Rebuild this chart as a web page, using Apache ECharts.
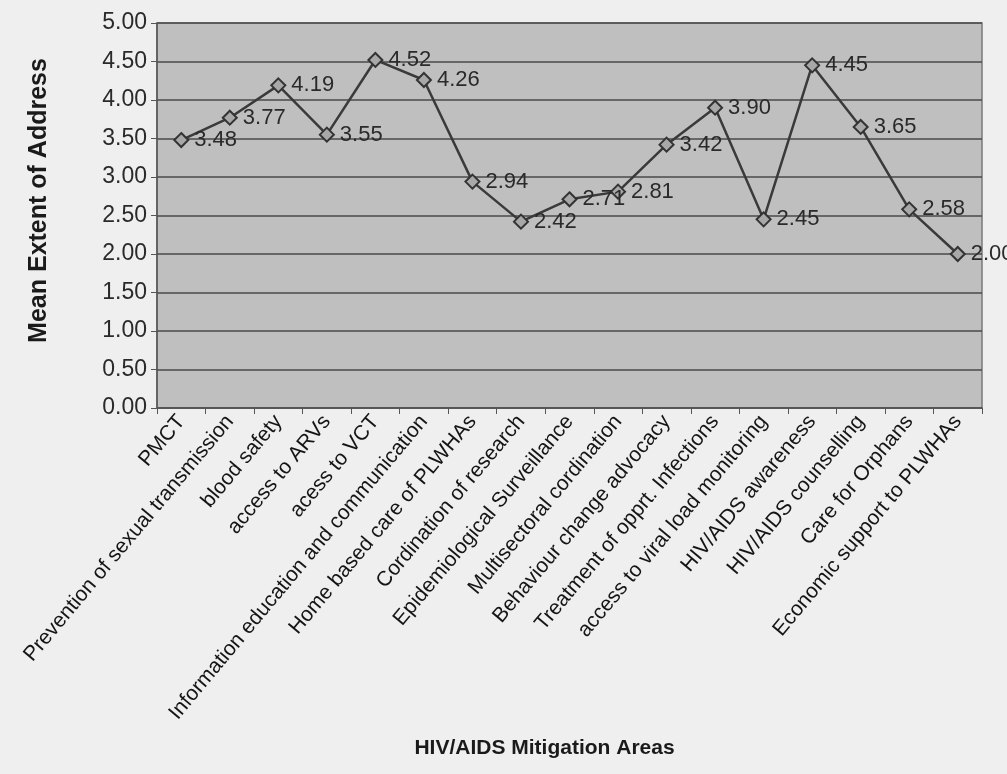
<!doctype html>
<html>
    <head>
        <meta charset="utf-8">
        <title>HIV/AIDS Mitigation Areas</title>
        <style>
            html, body { margin: 0; padding: 0; background: #efefef; }
            #main { width: 1007px; height: 774px; }
        </style>
    </head>
    <body>
        <div id="main"></div>
        <script src="https://cdn.jsdelivr.net/npm/echarts@6/dist/echarts.min.js"></script>
        <script>
            var areas = [
                'PMCT',
                'Prevention of sexual transmission',
                'blood safety',
                'access to ARVs',
                'acess to VCT',
                'Information education and communication',
                'Home based care of PLWHAs',
                'Cordination of research',
                'Epidemiological Surveillance',
                'Multisectoral cordination',
                'Behaviour change advocacy',
                'Treatment of opprt. Infections',
                'access to viral load monitoring',
                'HIV/AIDS awareness',
                'HIV/AIDS counselling',
                'Care for Orphans',
                'Economic support to PLWHAs'
            ];
            var meanExtent = [3.48, 3.77, 4.19, 3.55, 4.52, 4.26, 2.94, 2.42, 2.71, 2.81, 3.42, 3.90, 2.45, 4.45, 3.65, 2.58, 2.00];

            var chart = echarts.init(document.getElementById('main'));
            var font = 'Arial, "Liberation Sans", sans-serif';

            chart.setOption({
                backgroundColor: '#efefef',
                animation: false,
                grid: {
                    left: 157,
                    right: 25,
                    top: 23,
                    bottom: 366,
                    show: true,
                    backgroundColor: '#bfbfbf',
                    borderColor: '#7a7a7a',
                    borderWidth: 1.5
                },
                xAxis: {
                    type: 'category',
                    data: areas,
                    boundaryGap: true,
                    name: 'HIV/AIDS Mitigation Areas',
                    nameLocation: 'middle',
                    nameGap: 330,
                    nameTextStyle: {
                        fontFamily: font,
                        fontWeight: 'bold',
                        fontSize: 21,
                        color: '#1a1a1a',
                        padding: [0, 50, 0, 0]
                    },
                    axisLine: { lineStyle: { color: '#555', width: 1.5 } },
                    axisTick: { show: true, length: 6, lineStyle: { color: '#555' } },
                    axisLabel: {
                        interval: 0,
                        rotate: 50,
                        margin: 10,
                        fontFamily: font,
                        fontSize: 21,
                        color: '#151515'
                    },
                    splitLine: { show: false }
                },
                yAxis: {
                    type: 'value',
                    min: 0,
                    max: 5,
                    interval: 0.5,
                    name: 'Mean Extent of Address',
                    nameLocation: 'middle',
                    nameGap: 105,
                    nameTextStyle: {
                        fontFamily: font,
                        fontWeight: 'bold',
                        fontSize: 25,
                        color: '#1a1a1a',
                        padding: [0, 0, 0, 30]
                    },
                    axisLine: { show: true, lineStyle: { color: '#555', width: 1.5 } },
                    axisTick: { show: true, length: 6, lineStyle: { color: '#555' } },
                    axisLabel: {
                        margin: 10,
                        fontFamily: font,
                        fontSize: 23,
                        color: '#2a2a2a',
                        formatter: function (v) { return v.toFixed(2); }
                    },
                    splitLine: { show: true, lineStyle: { color: '#4a4a4a', width: 1.5 } }
                },
                series: [{
                    type: 'line',
                    data: meanExtent,
                    symbol: 'diamond',
                    symbolSize: 14,
                    itemStyle: {
                        color: '#a8a8a8',
                        borderColor: '#333',
                        borderWidth: 2
                    },
                    lineStyle: { color: '#3a3a3a', width: 2.5 },
                    label: {
                        show: true,
                        position: 'right',
                        distance: 5,
                        fontFamily: font,
                        fontSize: 22,
                        color: '#2a2a2a',
                        formatter: function (p) { return p.value.toFixed(2); }
                    }
                }]
            });
        </script>
    </body>
</html>
